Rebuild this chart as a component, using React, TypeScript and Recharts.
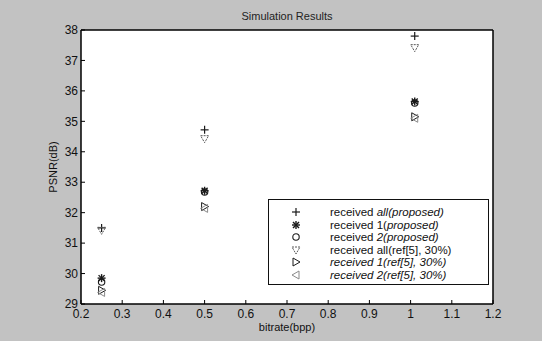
import { ScatterChart, Scatter, XAxis, YAxis, CartesianGrid } from 'recharts';

const bitrates = [0.25, 0.5, 1.01];
const allProposed = [31.5, 34.72, 37.8];
const oneProposed = [29.85, 32.72, 35.65];
const twoProposed = [29.72, 32.68, 35.6];
const allRef = [31.42, 34.43, 37.42];
const oneRef = [29.45, 32.2, 35.15];
const twoRef = [29.38, 32.14, 35.1];

const xTicks = [0.2, 0.3, 0.4, 0.5, 0.6, 0.7, 0.8, 0.9, 1, 1.1, 1.2];
const yTicks = [29, 30, 31, 32, 33, 34, 35, 36, 37, 38];

const FONT = '"Liberation Sans", Arial, sans-serif';
const DARK = '#1a1a1a';
const SOFT = '#5a5a5a';

type ShapeProps = { cx?: number; cy?: number };

const Plus = ({ cx = 0, cy = 0 }: ShapeProps) => (
  <g stroke={DARK} strokeWidth={1.2}>
    <line x1={cx - 4} y1={cy} x2={cx + 4} y2={cy} />
    <line x1={cx} y1={cy - 4} x2={cx} y2={cy + 4} />
  </g>
);

const Star = ({ cx = 0, cy = 0 }: ShapeProps) => (
  <g stroke={DARK} strokeWidth={1.4}>
    <line x1={cx - 4} y1={cy} x2={cx + 4} y2={cy} />
    <line x1={cx} y1={cy - 4} x2={cx} y2={cy + 4} />
    <line x1={cx - 3} y1={cy - 3} x2={cx + 3} y2={cy + 3} />
    <line x1={cx - 3} y1={cy + 3} x2={cx + 3} y2={cy - 3} />
  </g>
);

const Ring = ({ cx = 0, cy = 0 }: ShapeProps) => (
  <circle cx={cx} cy={cy} r={3.2} fill="none" stroke={DARK} strokeWidth={1.1} />
);

const TriDown = ({ cx = 0, cy = 0 }: ShapeProps) => (
  <polygon
    points={`${cx - 4},${cy - 3} ${cx + 4},${cy - 3} ${cx},${cy + 4}`}
    fill="none"
    stroke={SOFT}
    strokeWidth={1}
    strokeDasharray="2 1"
  />
);

const TriRight = ({ cx = 0, cy = 0 }: ShapeProps) => (
  <polygon
    points={`${cx - 3},${cy - 4} ${cx + 4},${cy} ${cx - 3},${cy + 4}`}
    fill="none"
    stroke={DARK}
    strokeWidth={1}
  />
);

const TriLeft = ({ cx = 0, cy = 0 }: ShapeProps) => (
  <polygon
    points={`${cx + 3},${cy - 4} ${cx - 4},${cy} ${cx + 3},${cy + 4}`}
    fill="none"
    stroke="#8a8a8a"
    strokeWidth={1}
  />
);

const toPoints = (ys: number[]) => bitrates.map((x, i) => ({ x, y: ys[i] }));

const series = [
  { name: 'all', values: allProposed, shape: Plus },
  { name: 'one', values: oneProposed, shape: Star },
  { name: 'two', values: twoProposed, shape: Ring },
  { name: 'allRef', values: allRef, shape: TriDown },
  { name: 'oneRef', values: oneRef, shape: TriRight },
  { name: 'twoRef', values: twoRef, shape: TriLeft },
];

const legendRows = [
  { shape: Plus, plain: 'received ', italic: 'all(proposed)' },
  { shape: Star, plain: 'received 1(', italic: 'proposed)' },
  { shape: Ring, plain: 'received ', italic: '2(proposed)' },
  { shape: TriDown, plain: 'received all(ref[5], 30%)', italic: '' },
  { shape: TriRight, plain: '', italic: 'received 1(ref[5], 30%)' },
  { shape: TriLeft, plain: '', italic: 'received 2(ref[5], 30%)' },
];

function LegendBox() {
  return (
    <div
      style={{
        position: 'absolute',
        left: 268,
        top: 199,
        width: 221,
        height: 86,
        background: '#fff',
        border: '1px solid #111',
        boxSizing: 'border-box',
        padding: '6px 0 0 0',
        fontFamily: FONT,
        fontSize: 11.5,
        color: '#111',
      }}
    >
      {legendRows.map((r, i) => {
        const S = r.shape;
        return (
          <div key={i} style={{ display: 'flex', alignItems: 'center', height: 12.5, lineHeight: '12.5px' }}>
            <svg width={61} height={12} style={{ flex: 'none' }}>
              <S cx={27} cy={6} />
            </svg>
            <span style={{ whiteSpace: 'nowrap' }}>
              {r.plain}
              {r.italic && <i>{r.italic}</i>}
            </span>
          </div>
        );
      })}
    </div>
  );
}

const fmt = (v: number) => `${+v.toFixed(1)}`;

export default function App() {
  return (
    <div style={{ position: 'fixed', left: 0, top: 0, width: 542, height: 341, background: '#c2c2c2', fontFamily: FONT }}>
      <div style={{ position: 'absolute', left: 0, top: 10, width: 574, textAlign: 'center', fontSize: 11, color: '#222' }}>
        Simulation Results
      </div>
      <div style={{ position: 'absolute', left: 0, top: 321, width: 574, textAlign: 'center', fontSize: 11, color: '#111' }}>
        bitrate(bpp)
      </div>
      <div
        style={{
          position: 'absolute',
          left: 53,
          top: 167,
          transform: 'translate(-50%, -50%) rotate(-90deg)',
          fontSize: 11,
          color: '#111',
          whiteSpace: 'nowrap',
        }}
      >
        PSNR(dB)
      </div>
      <ScatterChart width={542} height={341} margin={{ top: 29, right: 48, bottom: 17, left: 51 }}>
        <CartesianGrid fill="#fff" horizontal={false} vertical={false} />
        <XAxis
          type="number"
          dataKey="x"
          domain={[0.2, 1.2]}
          ticks={xTicks}
          tickFormatter={fmt}
          height={20}
          tickSize={-4}
          tickMargin={9}
          axisLine={{ stroke: '#000', strokeWidth: 1.5 }}
          tickLine={{ stroke: '#000' }}
          tick={{ fill: '#111', fontSize: 12, fontFamily: FONT }}
          allowDataOverflow
        />
        <XAxis
          xAxisId="top"
          orientation="top"
          type="number"
          domain={[0.2, 1.2]}
          ticks={xTicks}
          height={1}
          tickSize={-4}
          tick={false}
          axisLine={{ stroke: '#000', strokeWidth: 1.5 }}
          tickLine={{ stroke: '#000' }}
        />
        <YAxis
          type="number"
          dataKey="y"
          domain={[29, 38]}
          ticks={yTicks}
          width={30}
          tickSize={-4}
          tickMargin={7}
          axisLine={{ stroke: '#000', strokeWidth: 1.5 }}
          tickLine={{ stroke: '#000' }}
          tick={{ fill: '#111', fontSize: 12, fontFamily: FONT }}
          allowDataOverflow
        />
        <YAxis
          yAxisId="right"
          orientation="right"
          type="number"
          domain={[29, 38]}
          ticks={yTicks}
          width={1}
          tickSize={-4}
          tick={false}
          axisLine={{ stroke: '#000', strokeWidth: 1.5 }}
          tickLine={{ stroke: '#000' }}
        />
        {series.map((s) => (
          <Scatter key={s.name} name={s.name} data={toPoints(s.values)} shape={s.shape} isAnimationActive={false} />
        ))}
      </ScatterChart>
      <LegendBox />
    </div>
  );
}
